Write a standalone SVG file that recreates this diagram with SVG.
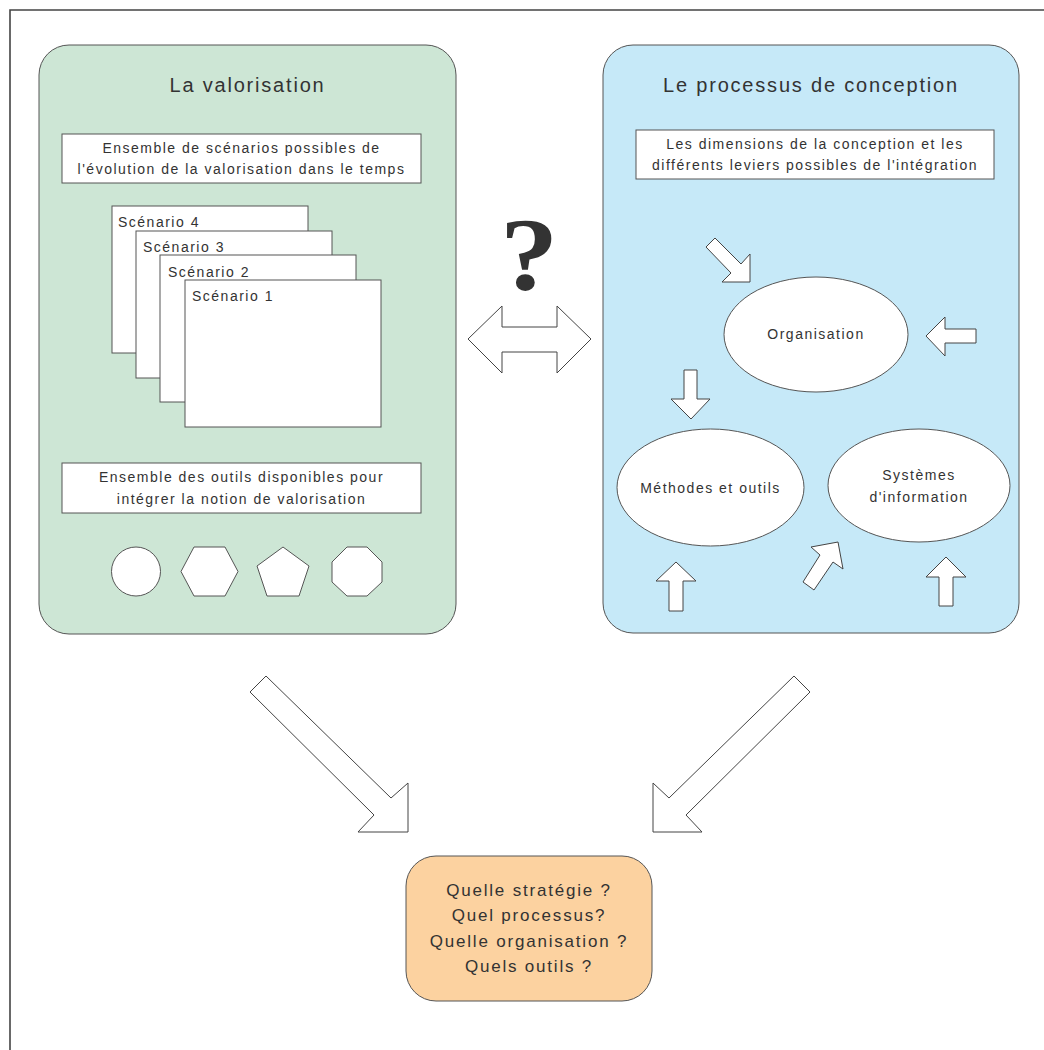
<svg xmlns="http://www.w3.org/2000/svg" width="1044" height="1050" viewBox="0 0 1044 1050">
<style>
.t{font-family:"Liberation Sans",Arial,sans-serif;fill:#333;}
.s{font-size:14px;letter-spacing:1.5px;}
.m{font-size:17px;letter-spacing:1.8px;}
.l{font-size:20px;letter-spacing:1.8px;}
.c{text-anchor:middle;}
.box{fill:#fff;stroke:#555;stroke-width:1;}
.arr{fill:#fff;stroke:#444;stroke-width:1;stroke-linejoin:miter;}
</style>
<rect width="1044" height="1050" fill="#fff"/>
<path d="M10 1050 V10 H1044" fill="none" stroke="#444" stroke-width="1.6"/>

<g id="valorisation">
<rect x="39" y="45" width="417" height="589" rx="30" ry="30" fill="#cde6d5" stroke="#555" stroke-width="1"/>
<text class="t l c" x="247.5" y="92">La valorisation</text>
<rect class="box" x="62" y="134" width="359" height="49"/>
<text class="t s c" x="241.5" y="152.5">Ensemble de scénarios possibles de</text>
<text class="t s c" x="241.5" y="174">l'évolution de la valorisation dans le temps</text>
<g id="scenarios">
<rect class="box" x="112" y="206" width="196" height="147"/>
<text class="t s" x="118" y="227">Scénario 4</text>
<rect class="box" x="136" y="231" width="196" height="147"/>
<text class="t s" x="143" y="252">Scénario 3</text>
<rect class="box" x="160" y="255" width="196" height="147"/>
<text class="t s" x="168" y="277">Scénario 2</text>
<rect class="box" x="185" y="280" width="196" height="147"/>
<text class="t s" x="192" y="301">Scénario 1</text>
</g>
<rect class="box" x="62" y="463" width="359" height="50"/>
<text class="t s c" x="241.5" y="482">Ensemble des outils disponibles pour</text>
<text class="t s c" x="241.5" y="503.5">intégrer la notion de valorisation</text>
<g id="outils">
<circle class="box" cx="136" cy="571.5" r="24.5"/>
<polygon class="box" points="181,571.5 194,547 225,547 238,571.5 225,596 194,596"/>
<polygon class="box" points="283,547 309,566 299,596 267,596 257,566"/>
<polygon class="box" points="347,547 367,547 382,562 382,582 367,596 347,596 332,582 332,562"/>
</g>
</g>

<g id="conception">
<rect x="603" y="45" width="416" height="588" rx="30" ry="30" fill="#c6e9f8" stroke="#555" stroke-width="1"/>
<text class="t l c" x="811" y="92">Le processus de conception</text>
<rect class="box" x="636" y="130" width="358" height="49"/>
<text class="t s c" x="815" y="148.5">Les dimensions de la conception et les</text>
<text class="t s c" x="815" y="170">différents leviers possibles de l'intégration</text>
<g id="organisation">
<ellipse class="box" cx="816" cy="334.5" rx="92" ry="57.5"/>
<text class="t s c" x="816" y="339">Organisation</text>
</g>
<g id="methodes">
<ellipse class="box" cx="710.5" cy="487.5" rx="93.5" ry="58.5"/>
<text class="t s c" x="710.5" y="493">Méthodes et outils</text>
</g>
<g id="systemes">
<ellipse class="box" cx="919" cy="485.5" rx="91" ry="56.5"/>
<text class="t s c" x="919" y="480">Systèmes</text>
<text class="t s c" x="919" y="502">d'information</text>
</g>
</g>

<g id="question">
<text x="0" y="0" transform="translate(529,290) scale(1.12,1)" font-family="'Liberation Serif','Times New Roman',serif" font-weight="bold" font-size="104" fill="#333" text-anchor="middle">?</text>
</g>

<g id="synthese">
<rect x="406" y="856" width="246" height="145" rx="30" ry="30" fill="#fcd2a0" stroke="#555" stroke-width="1"/>
<text class="t m c" x="529" y="896">Quelle stratégie ?</text>
<text class="t m c" x="529" y="921">Quel processus?</text>
<text class="t m c" x="529" y="947">Quelle organisation ?</text>
<text class="t m c" x="529" y="972">Quels outils ?</text>
</g>

<g id="connectors">
<polygon class="arr" points="468,339 502,306 502,327 557,327 557,306 591,339 557,373 557,352 502,352 502,373"/>
<polygon class="arr" points="706,247 715,238 741,264 750,254 750,282 722,282 731,273"/>
<polygon class="arr" points="926,336 945,317 945,329 976,329 976,343 945,343 945,356"/>
<polygon class="arr" points="684,370 697,370 697,399 710,399 691,419 671,399 684,399"/>
<polygon class="arr" points="676,562 696,581 683,581 683,611 669,611 669,581 656,581"/>
<polygon class="arr" points="803,582 820,555 811,547 838,542 843,569 833,562 814,590"/>
<polygon class="arr" points="946,557 966,577 953,577 953,606 939,606 939,577 926,577"/>
<polygon class="arr" points="250,692 266,676 391,798 408,783 408,832 358,832 374,815"/>
<polygon class="arr" points="810,692 794,676 669,798 653,783 653,832 702,832 686,815"/>
</g>
</svg>
